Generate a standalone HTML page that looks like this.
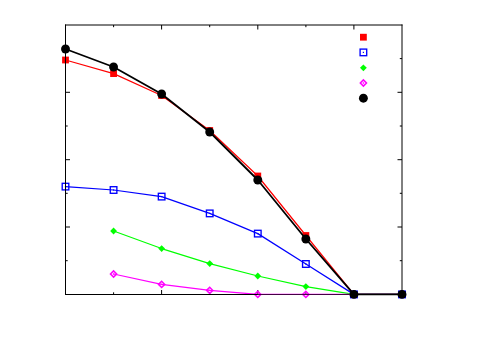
<!DOCTYPE html><html><head><meta charset="utf-8"><style>html,body{margin:0;padding:0;background:#fff}svg{display:block}</style></head><body><svg width="500" height="350" viewBox="0 0 500 350">
<rect width="500" height="350" fill="#fff"/>
<g stroke="#000" stroke-width="1" fill="none">
<line x1="65.5" y1="58.6" x2="67.7" y2="58.6"/>
<line x1="402" y1="58.6" x2="399.8" y2="58.6"/>
<line x1="65.5" y1="92.3" x2="70.0" y2="92.3"/>
<line x1="402" y1="92.3" x2="397.5" y2="92.3"/>
<line x1="65.5" y1="126.0" x2="67.7" y2="126.0"/>
<line x1="402" y1="126.0" x2="399.8" y2="126.0"/>
<line x1="65.5" y1="159.7" x2="70.0" y2="159.7"/>
<line x1="402" y1="159.7" x2="397.5" y2="159.7"/>
<line x1="65.5" y1="193.3" x2="67.7" y2="193.3"/>
<line x1="402" y1="193.3" x2="399.8" y2="193.3"/>
<line x1="65.5" y1="227.0" x2="70.0" y2="227.0"/>
<line x1="402" y1="227.0" x2="397.5" y2="227.0"/>
<line x1="65.5" y1="260.7" x2="67.7" y2="260.7"/>
<line x1="402" y1="260.7" x2="399.8" y2="260.7"/>
<line x1="113.6" y1="294.5" x2="113.6" y2="292.3"/>
<line x1="113.6" y1="25" x2="113.6" y2="27.2"/>
<line x1="161.6" y1="294.5" x2="161.6" y2="290.0"/>
<line x1="161.6" y1="25" x2="161.6" y2="29.5"/>
<line x1="209.7" y1="294.5" x2="209.7" y2="292.3"/>
<line x1="209.7" y1="25" x2="209.7" y2="27.2"/>
<line x1="257.8" y1="294.5" x2="257.8" y2="290.0"/>
<line x1="257.8" y1="25" x2="257.8" y2="29.5"/>
<line x1="305.9" y1="294.5" x2="305.9" y2="292.3"/>
<line x1="305.9" y1="25" x2="305.9" y2="27.2"/>
<line x1="353.9" y1="294.5" x2="353.9" y2="290.0"/>
<line x1="353.9" y1="25" x2="353.9" y2="29.5"/>
</g>
<polyline points="65.5,60.0 113.6,73.6 161.6,95.5 209.7,130.5 257.8,176.0 305.9,235.5 353.9,294.4 402.0,294.4" fill="none" stroke="#ff0000" stroke-width="1.2" stroke-linejoin="round"/>
<rect x="62.10" y="56.60" width="6.8" height="6.8" fill="#ff0000"/>
<rect x="110.17" y="70.20" width="6.8" height="6.8" fill="#ff0000"/>
<rect x="158.24" y="92.10" width="6.8" height="6.8" fill="#ff0000"/>
<rect x="206.31" y="127.10" width="6.8" height="6.8" fill="#ff0000"/>
<rect x="254.39" y="172.60" width="6.8" height="6.8" fill="#ff0000"/>
<rect x="302.46" y="232.10" width="6.8" height="6.8" fill="#ff0000"/>
<rect x="350.53" y="291.00" width="6.8" height="6.8" fill="#ff0000"/>
<rect x="398.60" y="291.00" width="6.8" height="6.8" fill="#ff0000"/>
<rect x="360.00" y="33.80" width="6.8" height="6.8" fill="#ff0000"/>
<polyline points="65.5,186.6 113.6,190.0 161.6,196.6 209.7,213.4 257.8,233.6 305.9,264.0 353.9,294.4 402.0,294.4" fill="none" stroke="#0000ff" stroke-width="1.25" stroke-linejoin="round"/>
<rect x="62.20" y="183.30" width="6.6" height="6.6" fill="none" stroke="#0000ff" stroke-width="1.35"/><rect x="64.90" y="186.00" width="1.2" height="1.2" fill="#0000ff"/>
<rect x="110.27" y="186.70" width="6.6" height="6.6" fill="none" stroke="#0000ff" stroke-width="1.35"/><rect x="112.97" y="189.40" width="1.2" height="1.2" fill="#0000ff"/>
<rect x="158.34" y="193.30" width="6.6" height="6.6" fill="none" stroke="#0000ff" stroke-width="1.35"/><rect x="161.04" y="196.00" width="1.2" height="1.2" fill="#0000ff"/>
<rect x="206.41" y="210.10" width="6.6" height="6.6" fill="none" stroke="#0000ff" stroke-width="1.35"/><rect x="209.11" y="212.80" width="1.2" height="1.2" fill="#0000ff"/>
<rect x="254.49" y="230.30" width="6.6" height="6.6" fill="none" stroke="#0000ff" stroke-width="1.35"/><rect x="257.19" y="233.00" width="1.2" height="1.2" fill="#0000ff"/>
<rect x="302.56" y="260.70" width="6.6" height="6.6" fill="none" stroke="#0000ff" stroke-width="1.35"/><rect x="305.26" y="263.40" width="1.2" height="1.2" fill="#0000ff"/>
<rect x="350.63" y="291.10" width="6.6" height="6.6" fill="none" stroke="#0000ff" stroke-width="1.35"/><rect x="353.33" y="293.80" width="1.2" height="1.2" fill="#0000ff"/>
<rect x="398.70" y="291.10" width="6.6" height="6.6" fill="none" stroke="#0000ff" stroke-width="1.35"/><rect x="401.40" y="293.80" width="1.2" height="1.2" fill="#0000ff"/>
<rect x="360.10" y="49.10" width="6.6" height="6.6" fill="none" stroke="#0000ff" stroke-width="1.35"/><rect x="362.80" y="51.80" width="1.2" height="1.2" fill="#0000ff"/>
<polyline points="113.6,231.0 161.6,248.6 209.7,263.6 257.8,276.0 305.9,286.6 353.9,294.4 402.0,294.4" fill="none" stroke="#00ff00" stroke-width="1.1" stroke-linejoin="round"/>
<path d="M110.17,231.00 L113.57,227.60 L116.97,231.00 L113.57,234.40Z" fill="#00ff00"/>
<path d="M158.24,248.60 L161.64,245.20 L165.04,248.60 L161.64,252.00Z" fill="#00ff00"/>
<path d="M206.31,263.60 L209.71,260.20 L213.11,263.60 L209.71,267.00Z" fill="#00ff00"/>
<path d="M254.39,276.00 L257.79,272.60 L261.19,276.00 L257.79,279.40Z" fill="#00ff00"/>
<path d="M302.46,286.60 L305.86,283.20 L309.26,286.60 L305.86,290.00Z" fill="#00ff00"/>
<path d="M350.53,294.40 L353.93,291.00 L357.33,294.40 L353.93,297.80Z" fill="#00ff00"/>
<path d="M398.60,294.40 L402.00,291.00 L405.40,294.40 L402.00,297.80Z" fill="#00ff00"/>
<path d="M360.00,67.80 L363.40,64.40 L366.80,67.80 L363.40,71.20Z" fill="#00ff00"/>
<polyline points="113.6,274.0 161.6,284.4 209.7,290.4 257.8,294.4 305.9,294.4 353.9,294.4 402.0,294.4" fill="none" stroke="#ff00ff" stroke-width="1.1" stroke-linejoin="round"/>
<path d="M110.47,274.00 L113.57,270.90 L116.67,274.00 L113.57,277.10Z" fill="none" stroke="#ff00ff" stroke-width="1.5"/><rect x="112.87" y="273.30" width="1.4" height="1.4" fill="#ff00ff"/>
<path d="M158.54,284.40 L161.64,281.30 L164.74,284.40 L161.64,287.50Z" fill="none" stroke="#ff00ff" stroke-width="1.5"/><rect x="160.94" y="283.70" width="1.4" height="1.4" fill="#ff00ff"/>
<path d="M206.61,290.40 L209.71,287.30 L212.81,290.40 L209.71,293.50Z" fill="none" stroke="#ff00ff" stroke-width="1.5"/><rect x="209.01" y="289.70" width="1.4" height="1.4" fill="#ff00ff"/>
<path d="M254.69,294.40 L257.79,291.30 L260.89,294.40 L257.79,297.50Z" fill="none" stroke="#ff00ff" stroke-width="1.5"/><rect x="257.09" y="293.70" width="1.4" height="1.4" fill="#ff00ff"/>
<path d="M302.76,294.40 L305.86,291.30 L308.96,294.40 L305.86,297.50Z" fill="none" stroke="#ff00ff" stroke-width="1.5"/><rect x="305.16" y="293.70" width="1.4" height="1.4" fill="#ff00ff"/>
<path d="M350.83,294.40 L353.93,291.30 L357.03,294.40 L353.93,297.50Z" fill="none" stroke="#ff00ff" stroke-width="1.5"/><rect x="353.23" y="293.70" width="1.4" height="1.4" fill="#ff00ff"/>
<path d="M398.90,294.40 L402.00,291.30 L405.10,294.40 L402.00,297.50Z" fill="none" stroke="#ff00ff" stroke-width="1.5"/><rect x="401.30" y="293.70" width="1.4" height="1.4" fill="#ff00ff"/>
<path d="M360.30,83.00 L363.40,79.90 L366.50,83.00 L363.40,86.10Z" fill="none" stroke="#ff00ff" stroke-width="1.5"/><rect x="362.70" y="82.30" width="1.4" height="1.4" fill="#ff00ff"/>
<polyline points="65.5,49.0 113.6,67.0 161.6,94.0 209.7,132.0 257.8,180.0 305.9,239.0 353.9,294.4 402.0,294.4" fill="none" stroke="#000000" stroke-width="1.8" stroke-linejoin="round"/>
<circle cx="65.50" cy="49.00" r="4.45" fill="#000000"/>
<circle cx="113.57" cy="67.00" r="4.45" fill="#000000"/>
<circle cx="161.64" cy="94.00" r="4.45" fill="#000000"/>
<circle cx="209.71" cy="132.00" r="4.45" fill="#000000"/>
<circle cx="257.79" cy="180.00" r="4.45" fill="#000000"/>
<circle cx="305.86" cy="239.00" r="4.45" fill="#000000"/>
<circle cx="353.93" cy="294.40" r="4.45" fill="#000000"/>
<circle cx="402.00" cy="294.40" r="4.45" fill="#000000"/>
<circle cx="363.40" cy="98.20" r="4.45" fill="#000000"/>
<g stroke="#000" stroke-width="1" fill="none">
<line x1="65.5" y1="24.5" x2="65.5" y2="295"/>
<line x1="65" y1="294.5" x2="402.5" y2="294.5"/>
<line x1="65" y1="25" x2="402.5" y2="25"/>
<line x1="402" y1="24.5" x2="402" y2="295"/>
</g>
<line x1="257.8" y1="294.5" x2="349.9" y2="294.5" stroke="#ff00ff" stroke-width="1" opacity="0.28"/>
</svg></body></html>
